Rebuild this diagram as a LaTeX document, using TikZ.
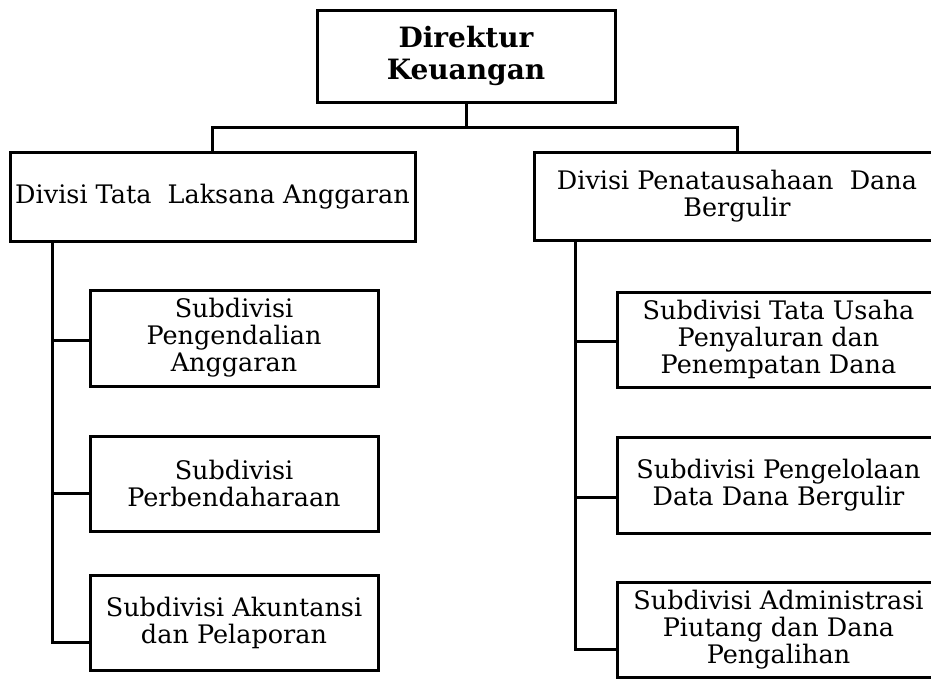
\documentclass[tikz,border=0pt]{standalone}
\usepackage{fontspec}
\setmainfont{DejaVu Serif}
\usepackage{tikz}

\tikzset{
  unit/.style={draw, rectangle, line width=3pt, align=center, inner sep=0pt,
    font=\fontsize{25.5}{27}\selectfont},
  link/.style={line width=3pt},
}

\begin{document}
\begin{tikzpicture}[x=1pt, y=-1pt]
      \useasboundingbox (0,0) rectangle (931,678);
      % Director
      \node[unit, minimum width=298pt, minimum height=92pt, font=\fontsize{28}{32}\selectfont\bfseries] (dir) at (466,56) {Direktur\\Keuangan};
      % Divisions
      \node[unit, minimum width=405pt, minimum height=89pt] (dtla) at (212.5,196.5) {Divisi Tata\ \ Laksana Anggaran};
      \node[unit, minimum width=406pt, minimum height=88pt] (dpdb) at (737,196) {Divisi Penatausahaan\ \ Dana\\Bergulir};
      % Subdivisions left
      \node[unit, minimum width=288pt, minimum height=96pt] (spa) at (234,338) {Subdivisi\\Pengendalian\\Anggaran};
      \node[unit, minimum width=288pt, minimum height=95pt] (spb) at (234,483.5) {Subdivisi\\Perbendaharaan};
      \node[unit, minimum width=288pt, minimum height=95pt] (sak) at (234,622.5) {Subdivisi Akuntansi\\dan Pelaporan};
      % Subdivisions right
      \node[unit, minimum width=323pt, minimum height=95pt] (stu) at (778.5,339.5) {Subdivisi Tata Usaha\\Penyaluran dan\\Penempatan Dana};
      \node[unit, minimum width=323pt, minimum height=96pt] (spd) at (778.5,485) {Subdivisi Pengelolaan\\Data Dana Bergulir};
      \node[unit, minimum width=323pt, minimum height=95pt] (sap) at (778.5,629.5) {Subdivisi Administrasi\\Piutang dan Dana\\Pengalihan};

      % Links
      \coordinate (hub) at (466,127);
      \coordinate (ltr) at (52,0);
      \coordinate (rtr) at (575,0);
      \draw[link] (dir.south) -- (hub);
      \draw[link] (dtla.north) |- (hub) -| (dpdb.north);
      \draw[link] ([yshift=-2pt]spa.west) -| (ltr |- dtla.south);
      \draw[link] ([yshift=-10pt]spb.west) -| (ltr |- dtla.south);
      \draw[link, line cap=rect] ([yshift=-20pt]sak.west) -| (ltr |- dtla.south);
      \draw[link] ([yshift=-1.5pt]stu.west) -| (rtr |- dpdb.south);
      \draw[link] ([yshift=-12pt]spd.west) -| (rtr |- dpdb.south);
      \draw[link, line cap=rect] ([yshift=-19.5pt]sap.west) -| (rtr |- dpdb.south);
    \end{tikzpicture}
\end{document}
